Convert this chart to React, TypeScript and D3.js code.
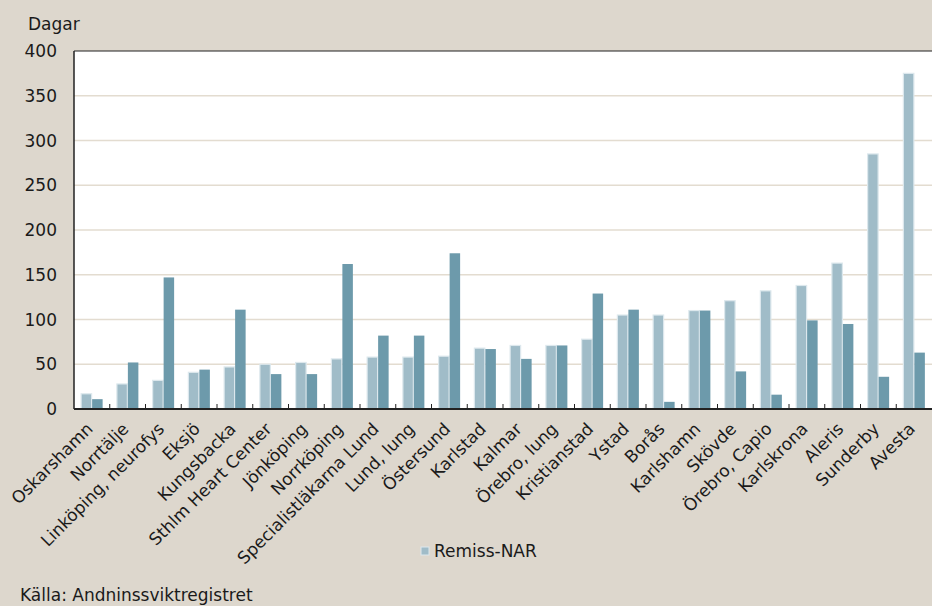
import React, { useEffect, useRef } from "react";
import * as d3 from "d3";

const categories = [
  "Oskarshamn", "Norrtälje", "Linköping, neurofys", "Eksjö", "Kungsbacka",
  "Sthlm Heart Center", "Jönköping", "Norrköping", "Specialistläkarna Lund",
  "Lund, lung", "Östersund", "Karlstad", "Kalmar", "Örebro, lung",
  "Kristianstad", "Ystad", "Borås", "Karlshamn", "Skövde", "Örebro, Capio",
  "Karlskrona", "Aleris", "Sunderby", "Avesta",
];
const remissNAR = [17, 28, 32, 41, 47, 50, 52, 56, 58, 58, 59, 68, 71, 71, 78, 105, 105, 110, 121, 132, 138, 163, 285, 375];
const secondSeries = [11, 52, 147, 44, 111, 39, 39, 162, 82, 82, 174, 67, 56, 71, 129, 111, 8, 110, 42, 16, 99, 95, 36, 63];
const yTicks = [0, 50, 100, 150, 200, 250, 300, 350, 400];
const legendLabel = "Remiss-NAR";
const yTitle = "Dagar";
const source = "Källa: Andninssviktregistret";

const W = 932, H = 606;
const M = { left: 74, top: 51, right: 932, bottom: 409 };
const FONT = "'DejaVu Sans', sans-serif";
const FS = 17;

export default function App() {
  const ref = useRef<SVGSVGElement>(null);
  useEffect(() => {
    const svg = d3.select(ref.current);
    svg.selectAll("*").remove();
    svg.append("rect").attr("width", W).attr("height", H).attr("fill", "#ddd7cd");
    svg.append("rect").attr("x", M.left).attr("y", M.top).attr("width", M.right - M.left).attr("height", M.bottom - M.top).attr("fill", "#ffffff");

    const x = d3.scaleBand<string>().domain(categories).range([M.left, M.right]).paddingInner(0).paddingOuter(0);
    const y = d3.scaleLinear().domain([0, 400]).range([M.bottom, M.top]);

    // gridlines
    svg.append("g").selectAll("line").data(yTicks.filter(t => t > 0 && t < 400)).join("line")
      .attr("x1", M.left).attr("x2", M.right)
      .attr("y1", d => y(d)).attr("y2", d => y(d))
      .attr("stroke", "#e3dcd0").attr("stroke-width", 1.5);

    const bw = 10.5;
    const gap = 0.5;
    const g = svg.append("g");
    categories.forEach((c, i) => {
      const cx = (x(c) as number) + x.bandwidth() / 2;
      g.append("rect")
        .attr("x", cx - bw - gap / 2).attr("y", y(remissNAR[i]))
        .attr("width", bw).attr("height", y(0) - y(remissNAR[i]))
        .attr("fill", "#a0bcc8").attr("stroke", "#dde8ed").attr("stroke-width", 1.2);
      g.append("rect")
        .attr("x", cx + gap / 2).attr("y", y(secondSeries[i]))
        .attr("width", bw).attr("height", y(0) - y(secondSeries[i]))
        .attr("fill", "#6d9aab");
    });

    // borders
    svg.append("line").attr("x1", M.left).attr("x2", M.right).attr("y1", M.top).attr("y2", M.top).attr("stroke", "#222").attr("stroke-width", 1);
    svg.append("line").attr("x1", M.left).attr("x2", M.left).attr("y1", M.top).attr("y2", M.bottom).attr("stroke", "#222").attr("stroke-width", 1.5);
    svg.append("line").attr("x1", M.left).attr("x2", M.right).attr("y1", M.bottom).attr("y2", M.bottom).attr("stroke", "#222").attr("stroke-width", 2);

    // x ticks between categories
    svg.append("g").selectAll("line").data(categories.slice(1)).join("line")
      .attr("x1", d => x(d) as number).attr("x2", d => x(d) as number)
      .attr("y1", M.bottom).attr("y2", M.bottom - 5)
      .attr("stroke", "#222").attr("stroke-width", 1);

    // y labels
    svg.append("g").selectAll("text").data(yTicks).join("text")
      .attr("x", 57).attr("y", d => y(d)).attr("dy", "0.36em")
      .attr("text-anchor", "end").attr("font-family", FONT).attr("font-size", FS).attr("fill", "#1a1a1a")
      .text(d => d);

    // x labels
    svg.append("g").selectAll("text").data(categories).join("text")
      .attr("transform", d => `translate(${(x(d) as number) + x.bandwidth() / 2 + 2},${M.bottom + 21}) rotate(-45)`)
      .attr("text-anchor", "end").attr("font-family", FONT).attr("font-size", FS).attr("fill", "#1a1a1a")
      .text(d => d);

    svg.append("text").attr("x", 28).attr("y", 30).attr("font-family", FONT).attr("font-size", FS).attr("fill", "#1a1a1a").text(yTitle);

    svg.append("rect").attr("x", 421).attr("y", 547).attr("width", 8).attr("height", 8).attr("fill", "#a0bcc8").attr("stroke", "#dde8ed").attr("stroke-width", 1);
    svg.append("text").attr("x", 434).attr("y", 557).attr("font-family", FONT).attr("font-size", FS).attr("fill", "#1a1a1a").text(legendLabel);

    svg.append("text").attr("x", 20).attr("y", 601).attr("font-family", FONT).attr("font-size", FS).attr("fill", "#1a1a1a").text(source);
  }, []);
  return (
    <div style={{ position: "fixed", left: 0, top: 0 }}>
      <svg ref={ref} width={W} height={H} style={{ display: "block" }} />
    </div>
  );
}
